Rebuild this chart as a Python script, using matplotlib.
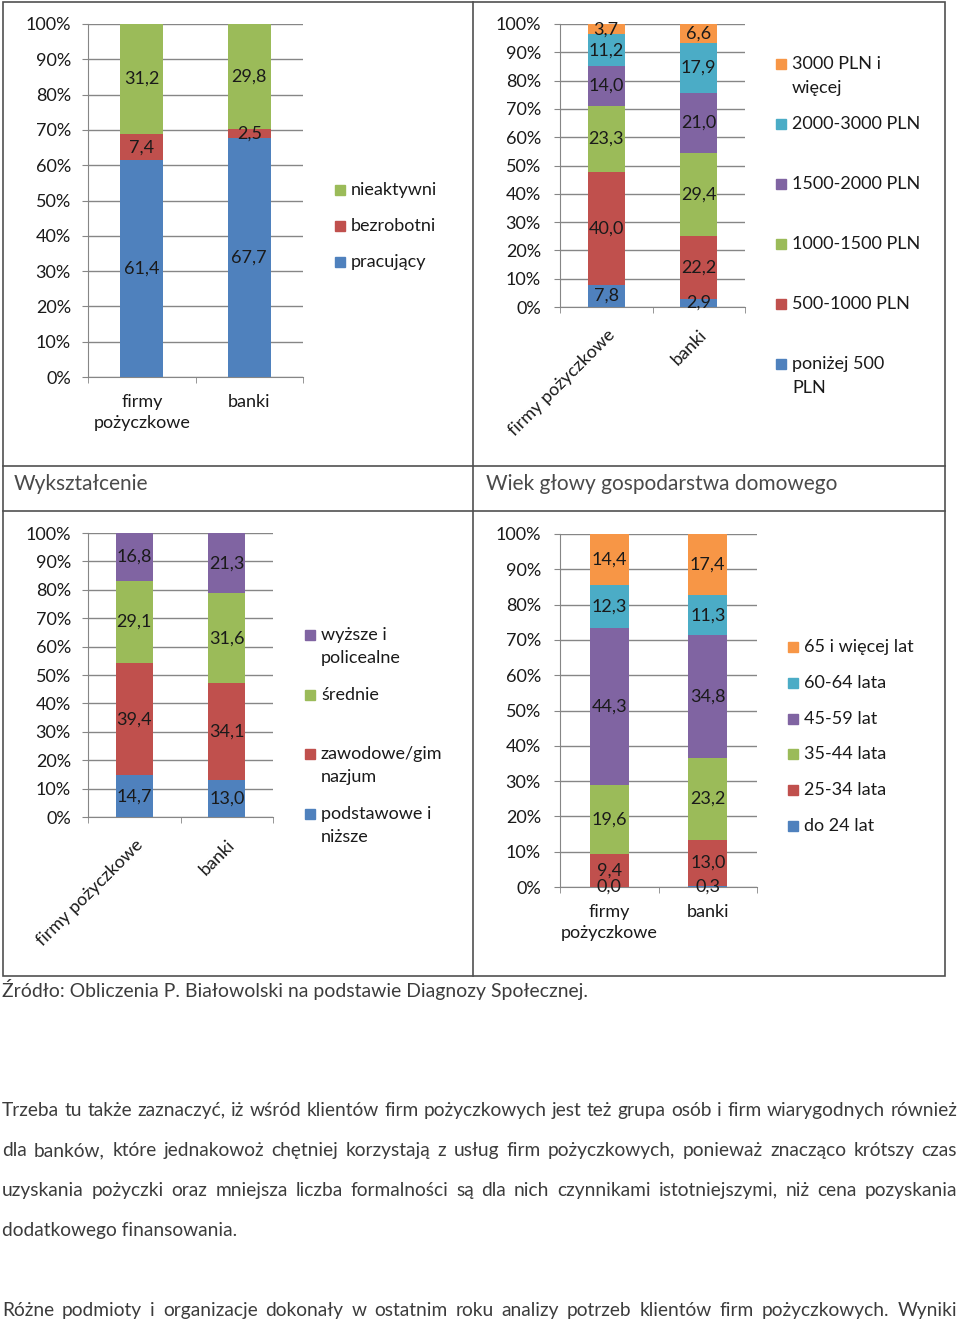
import matplotlib.pyplot as plt
from matplotlib.patches import Rectangle

plt.rcParams['font.family'] = ['Lato', 'DejaVu Sans']

groups = ['firmy pożyczkowe', 'banki']
groups_wrapped = ['firmy\npożyczkowe', 'banki']

# status na rynku pracy
work_labels = ['pracujący', 'bezrobotni', 'nieaktywni']
work_firmy = [61.4, 7.4, 31.2]
work_banki = [67.7, 2.5, 29.8]

# dochód
income_labels = ['poniżej 500\nPLN', '500-1000 PLN', '1000-1500 PLN', '1500-2000 PLN',
                 '2000-3000 PLN', '3000 PLN i\nwięcej']
income_firmy = [7.8, 40.0, 23.3, 14.0, 11.2, 3.7]
income_banki = [2.9, 22.2, 29.4, 21.0, 17.9, 6.6]

# wykształcenie
edu_labels = ['podstawowe i\nniższe', 'zawodowe/gim\nnazjum', 'średnie', 'wyższe i\npolicealne']
edu_firmy = [14.7, 39.4, 29.1, 16.8]
edu_banki = [13.0, 34.1, 31.6, 21.3]

# wiek głowy gospodarstwa domowego
age_labels = ['do 24 lat', '25-34 lata', '35-44 lata', '45-59 lat', '60-64 lata', '65 i więcej lat']
age_firmy = [0.0, 9.4, 19.6, 44.3, 12.3, 14.4]
age_banki = [0.3, 13.0, 23.2, 34.8, 11.3, 17.4]

palette = ['#4F81BD', '#C0504D', '#9BBB59', '#8064A2', '#4BACC6', '#F79646']
grid_c = '#868686'
ink = '#1a1a1a'
grey_txt = '#3c3c3c'

source = 'Źródło: Obliczenia P. Białowolski na podstawie Diagnozy Społecznej.'
body = [
    ('Trzeba tu także zaznaczyć, iż wśród klientów firm pożyczkowych jest też grupa osób i firm wiarygodnych również', True),
    ('dla banków, które jednakowoż chętniej korzystają z usług firm pożyczkowych, ponieważ znacząco krótszy czas', True),
    ('uzyskania pożyczki oraz mniejsza liczba formalności są dla nich czynnikami istotniejszymi, niż cena pozyskania', True),
    ('dodatkowego finansowania.', False),
    (None, False),
    ('Różne podmioty i organizacje dokonały w ostatnim roku analizy potrzeb klientów firm pożyczkowych. Wyniki', True),
]

W, H = 960, 1322
fig = plt.figure(figsize=(W / 100, H / 100), dpi=100)
page = fig.add_axes([0, 0, 1, 1])
page.set_xlim(0, W)
page.set_ylim(H, 0)
page.axis('off')
renderer = fig.canvas.get_renderer()


def panel(left, top, right, bottom, firmy, banki, rotate, ypad):
    ax = fig.add_axes([left / W, 1 - bottom / H, (right - left) / W, (bottom - top) / H])
    ax.set_facecolor('none')
    base = [0, 0]
    for i, (a, b) in enumerate(zip(firmy, banki)):
        bars = ax.bar([0, 1], [a, b], 0.4, bottom=base, color=palette[i], zorder=3)
        txt = ax.bar_label(bars, labels=[f'{v:.1f}'.replace('.', ',') for v in (a, b)],
                           label_type='center', fontsize=13, color=ink)
        for t in txt:
            t.set_zorder(6)
        base = [base[0] + a, base[1] + b]
    ax.set_xlim(-0.5, 1.5)
    ax.set_ylim(0, 100)
    ax.set_yticks(range(0, 101, 10), [f'{t}%' for t in range(0, 101, 10)])
    ax.yaxis.grid(True, color=grid_c, lw=1)
    ax.set_axisbelow(True)
    for s in ['top', 'right']:
        ax.spines[s].set_visible(False)
    for s in ['left', 'bottom']:
        ax.spines[s].set_color(grid_c)
    ax.tick_params(axis='y', length=4.3, color=grid_c, labelsize=13, pad=ypad, labelcolor=ink)
    ax.set_xticks([-0.5, 0.5, 1.5], minor=True)
    ax.tick_params(axis='x', which='minor', length=4.3, color=grid_c)
    if rotate:
        ax.set_xticks([0, 1], groups, rotation=45, ha='right', rotation_mode='anchor')
        ax.tick_params(axis='x', which='major', length=0, pad=14, labelsize=13, labelcolor=ink)
    else:
        ax.set_xticks([0, 1], groups_wrapped, linespacing=1.4)
        ax.tick_params(axis='x', which='major', length=0, pad=12, labelsize=13, labelcolor=ink)
    return ax


def legend(x, y0, step, labels, line_gap=24):
    items = list(enumerate(labels))[::-1]
    for k, (i, lab) in enumerate(items):
        y = y0 + k * step
        page.add_patch(Rectangle((x, y - 5), 10, 10, color=palette[i]))
        for j, line in enumerate(lab.split('\n')):
            page.text(x + 16, y + j * line_gap + 5, line, va='baseline', fontsize=13, color=ink)


def fit_size(s, width):
    t = page.text(0, 0, s, fontsize=10)
    w = t.get_window_extent(renderer).width
    t.remove()
    return 10 * width / w


panel(88, 24, 303, 377, work_firmy, work_banki, False, 8)
panel(560, 24, 745, 307, income_firmy, income_banki, True, 9.5)
panel(88, 533, 273, 817, edu_firmy, edu_banki, True, 8)
panel(560, 534, 757, 887, age_firmy, age_banki, False, 9.5)

legend(335, 190, 36, work_labels)
legend(776, 64, 60, income_labels)
legend(305, 635, 59.5, edu_labels, line_gap=23)
legend(788, 647, 35.8, age_labels)

# ramka tabeli
line_c = '#505050'
page.add_patch(Rectangle((3, 2), 942, 974, fill=False, ec=line_c, lw=1.2))
page.plot([473, 473], [2, 976], color=line_c, lw=1.2)
page.plot([3, 945], [466, 466], color=line_c, lw=1.2)
page.plot([3, 945], [511, 511], color=line_c, lw=1.2)
page.text(14, 490, 'Wykształcenie', va='baseline', fontsize=15, color='#4a4a4a')
page.text(486, 490, 'Wiek głowy gospodarstwa domowego', va='baseline', fontsize=15, color='#4a4a4a')

page.text(2, 997, source, va='baseline', fontsize=fit_size(source, 586), color=grey_txt)

# tekst wyjustowany
body_size = fit_size(body[0][0], 952)
y = 1116
for line, just in body:
    if line is None:
        y += 40
        continue
    if not just:
        page.text(2, y, line, va='baseline', fontsize=body_size, color=grey_txt)
    else:
        words = line.split()
        texts = [page.text(0, y, w, va='baseline', fontsize=body_size, color=grey_txt) for w in words]
        widths = [t.get_window_extent(renderer).width for t in texts]
        gap = (957 - 2 - sum(widths)) / (len(words) - 1)
        x = 2
        for t, w in zip(texts, widths):
            t.set_x(x)
            x += w + gap
    y += 40

fig.savefig('out.png', dpi=100, facecolor='white')
